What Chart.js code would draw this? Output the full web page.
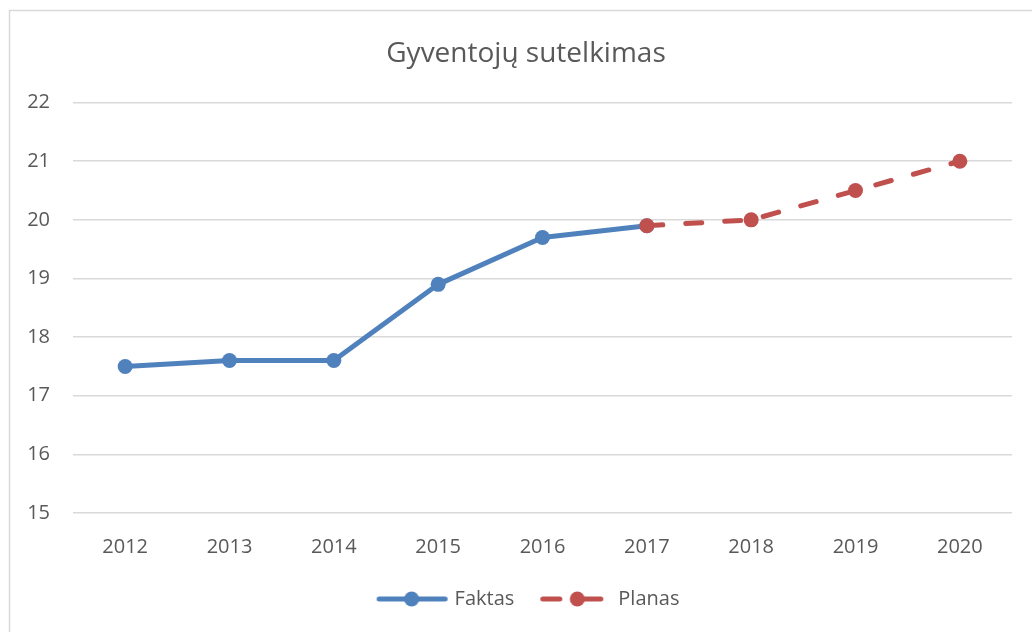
<!DOCTYPE html>
<html>
<head>
<meta charset="utf-8">
<script src="https://cdn.jsdelivr.net/npm/chart.js@4"></script>
<style>
html,body{margin:0;padding:0;background:#fff;}
#wrap{position:relative;width:1032px;height:632px;}
canvas{display:block;}
</style>
</head>
<body>
<div id="wrap"><canvas id="c" width="1032" height="632"></canvas></div>
<script>
const categories = ['2012','2013','2014','2015','2016','2017','2018','2019','2020'];
const faktas = [17.5, 17.6, 17.6, 18.9, 19.7, 19.9, null, null, null];
const planas = [null, null, null, null, null, 19.9, 20.0, 20.5, 21.0];
const yTicks = [15, 16, 17, 18, 19, 20, 21, 22];
const titleText = 'Gyventojų sutelkimas';

const BLUE = '#4f81bd';
const RED = '#c0504d';
const TXT = '#595959';
const FONT = "'Open Sans', sans-serif";

function legendImg(color, dashed) {
  const c = document.createElement('canvas');
  c.width = 80; c.height = 16;
  const g = c.getContext('2d');
  g.strokeStyle = color; g.fillStyle = color; g.lineWidth = 5; g.lineCap = 'round';
  if (!dashed) {
    g.beginPath(); g.moveTo(10.5, 8); g.lineTo(76.5, 8); g.stroke();
    g.beginPath(); g.arc(43, 8, 7.5, 0, Math.PI * 2); g.fill();
  } else {
    g.beginPath(); g.moveTo(10.5, 8); g.lineTo(27.5, 8); g.stroke();
    g.beginPath(); g.moveTo(45, 8); g.lineTo(68.5, 8); g.stroke();
    g.beginPath(); g.arc(45, 8, 7.5, 0, Math.PI * 2); g.fill();
  }
  return c;
}
const imgF = legendImg(BLUE, false);
const imgP = legendImg(RED, true);

const framePlugin = {
  id: 'frame',
  afterLayout(chart) {
    // centre title and legend on the same axis as the reference
    if (chart.titleBlock) chart.titleBlock.left = 40;
    if (chart.legend) chart.legend.left = 40;
  },
  beforeDraw(chart) {
    const ctx = chart.ctx;
    ctx.save();
    ctx.fillStyle = '#fff';
    ctx.fillRect(0, 0, chart.width, chart.height);
    ctx.strokeStyle = '#d9d9d9';
    ctx.lineWidth = 1.5;
    ctx.strokeRect(9.5, 10.5, chart.width + 20, chart.height + 20);
    ctx.restore();
  }
};

new Chart(document.getElementById('c'), {
  type: 'line',
  data: {
    labels: categories,
    datasets: [
      {
        label: 'Faktas',
        data: faktas,
        order: 1,
        borderColor: BLUE,
        backgroundColor: BLUE,
        borderWidth: 5,
        pointRadius: 7.5,
        pointHoverRadius: 7.5,
        pointBorderWidth: 0,
        pointBackgroundColor: BLUE,
        borderCapStyle: 'round',
        borderJoinStyle: 'round',
        tension: 0,
        spanGaps: false,
        pointStyle: 'circle'
      },
      {
        label: 'Planas',
        data: planas,
        order: 0,
        borderColor: RED,
        backgroundColor: RED,
        borderWidth: 5,
        borderDash: [16, 23],
        borderCapStyle: 'round',
        pointRadius: 7.5,
        pointHoverRadius: 7.5,
        pointBorderWidth: 0,
        pointBackgroundColor: RED,
        tension: 0,
        pointStyle: 'circle'
      }
    ]
  },
  options: {
    responsive: false,
    animation: false,
    devicePixelRatio: 1,
    layout: { padding: { left: 0, right: 20, top: 0, bottom: 13 } },
    plugins: {
      title: {
        display: true,
        text: titleText,
        color: TXT,
        font: { family: FONT, size: 28, weight: 'normal' },
        padding: { top: 37, bottom: 32 }
      },
      legend: {
        display: true,
        position: 'bottom',
        labels: {
          color: TXT,
          font: { family: FONT, size: 20 },
          usePointStyle: true,
          pointStyleWidth: 72,
          padding: 22,
          generateLabels(chart) {
            return chart.data.datasets.map((ds, i) => ({
              text: ds.label,
              datasetIndex: i,
              pointStyle: i === 0 ? imgF : imgP,
              fontColor: TXT,
              hidden: false,
              lineWidth: 0,
              strokeStyle: 'transparent',
              fillStyle: 'transparent'
            }));
          }
        }
      },
      tooltip: { enabled: false }
    },
    scales: {
      x: {
        offset: true,
        grid: { display: false, drawTicks: false },
        border: { display: false },
        ticks: { color: TXT, font: { family: FONT, size: 20 }, padding: 22 },
        afterFit(scale) { scale.height = 54; }
      },
      y: {
        min: yTicks[0],
        max: yTicks[yTicks.length - 1],
        afterBuildTicks(scale) { scale.ticks = yTicks.map(v => ({ value: v })); },
        grid: { color: '#d9d9d9', lineWidth: 1.5, drawTicks: false },
        border: { display: false },
        ticks: { color: TXT, font: { family: FONT, size: 20 }, padding: 23 },
        afterFit(scale) { scale.width = 73; }
      }
    }
  },
  plugins: [framePlugin]
});
</script>
</body>
</html>
